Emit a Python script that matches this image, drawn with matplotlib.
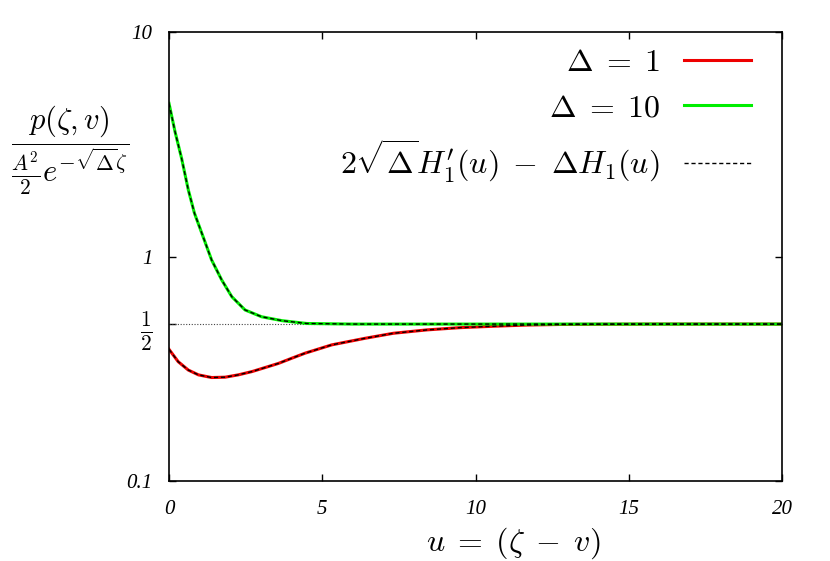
import numpy as np
import matplotlib
matplotlib.use('Agg')
import matplotlib.pyplot as plt

plt.rcParams['mathtext.fontset'] = 'cm'

# values
u_d1 = [0, 0.30, 0.63, 0.96, 1.39, 1.83, 2.26, 2.70, 3.13, 3.57, 4.0, 4.44,
        5.31, 6.39, 7.32, 8.41, 9.49, 10.58, 11.67, 12.75, 14, 16, 18, 20]
p_d1 = [0.386, 0.340, 0.312, 0.297, 0.289, 0.290, 0.297, 0.307, 0.320, 0.334,
        0.352, 0.371, 0.404, 0.432, 0.455, 0.471, 0.482, 0.489, 0.495, 0.498,
        0.499, 0.5, 0.5, 0.5]

u_d10 = [0, 0.196, 0.41, 0.63, 0.83, 1.07, 1.39, 1.72, 2.05, 2.48, 3.02, 3.68,
         4.5, 6, 10, 15, 20]
p_d10 = [4.81, 3.60, 2.74, 1.98, 1.56, 1.27, 0.965, 0.786, 0.662, 0.578, 0.539,
         0.518, 0.503, 0.5, 0.5, 0.5, 0.5]

yticks = [0.1, 0.5, 1, 10]
ytick_labels = ['0.1', r'$\frac{1}{2}$', '1', '10']
xticks = [0, 5, 10, 15, 20]

fig = plt.figure(figsize=(8.3, 5.61), dpi=100)
ax = fig.add_axes([169/830, 1-481/561, (782-169)/830, (481-32)/561])

ax.axhline(0.5, color='#444444', lw=0.8, ls=(0, (1, 1.5)))
ax.plot(u_d1, p_d1, color='#ee0000', lw=2.2, label=r'$\Delta\;=\;1$')
ax.plot(u_d10, p_d10, color='#00ee00', lw=2.2, label=r'$\Delta\;=\;10$')
ax.plot(u_d1, p_d1, color='black', lw=1.0, ls=(0, (3, 2)),
        label=r"$2\sqrt{\Delta}H_1'(u)\;-\;\Delta H_1(u)$")
ax.plot(u_d10, p_d10, color='black', lw=1.0, ls=(0, (3, 2)))

ax.set_yscale('log')
ax.set_xlim(0, 20)
ax.set_ylim(0.1, 10)
ax.minorticks_off()
ax.set_yticks(yticks)
ax.set_yticklabels(ytick_labels)
ax.set_xticks(xticks)
ax.tick_params(direction='in', top=True, right=True, length=5, width=1)
ax.tick_params(axis='x', pad=14)
ax.tick_params(axis='y', pad=12)
for lab in ax.get_xticklabels() + ax.get_yticklabels():
    if lab.get_text().startswith('$'):
        lab.set_fontsize(22)
    else:
        lab.set_fontfamily('Liberation Serif')
        lab.set_fontstyle('italic')
        lab.set_fontsize(15)
for sp in ax.spines.values():
    sp.set_linewidth(1.2)

leg = ax.legend(loc='upper right', markerfirst=False, frameon=False,
                fontsize=23, handlelength=2.1, handletextpad=0.75,
                labelspacing=0.45, borderaxespad=0, borderpad=0,
                bbox_to_anchor=(751/830, 1-47/561), bbox_transform=fig.transFigure)

fig.text(513/830, 1-543/561, r'$u\;=\;(\zeta\;-\;v)$', fontsize=23,
         ha='center', va='center')
fig.text(70/830, 1-150/561, r'$\dfrac{p(\zeta, v)}{\frac{A^2}{2}e^{-\sqrt{\Delta}\zeta}}$',
         fontsize=22, ha='center', va='center')

fig.savefig('out.png', dpi=100)
